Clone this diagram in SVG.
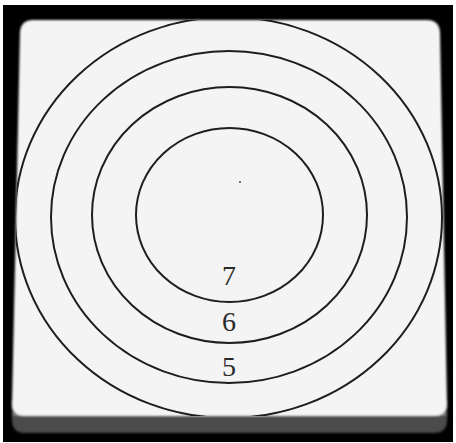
<svg xmlns="http://www.w3.org/2000/svg" width="456" height="443" viewBox="0 0 456 443">
  <defs>
    <filter id="soft" x="-5%" y="-5%" width="110%" height="110%">
      <feGaussianBlur stdDeviation="1.2"/>
    </filter>
    <clipPath id="boardClip">
      <path d="M33,20 H427 Q439,20 440,32 L447,404 Q447,416 435,416 H24 Q12,416 12,404 L20,32 Q21,20 33,20 Z"/>
    </clipPath>
  </defs>
  <style>
    .ring { fill: none; stroke: #1e1e1e; stroke-width: 2; }
    .num { font-family: "Liberation Serif", "Times New Roman", serif; font-size: 28px; fill: #2a2a2a; text-anchor: middle; }
  </style>
  <rect x="0" y="0" width="456" height="443" fill="#ffffff"/>
  <rect x="3" y="5" width="450" height="437" fill="#000000"/>
  <g id="base" filter="url(#soft)">
    <path d="M12,400 L12,420 Q12,433 25,433 H434 Q447,433 447,420 L447,400 Z" fill="#4b4b4b"/>
    <path d="M12,414 H447" stroke="#7a7a7a" stroke-width="3"/>
  </g>
  <g id="board">
    <path d="M33,20 H427 Q439,20 440,32 L447,404 Q447,416 435,416 H24 Q12,416 12,404 L20,32 Q21,20 33,20 Z" fill="#f4f4f4" filter="url(#soft)"/>
  </g>
  <g id="rings" clip-path="url(#boardClip)">
    <ellipse id="ring-outer" class="ring" cx="228.5" cy="217.5" rx="213.5" ry="200.5"/>
    <ellipse id="ring-5" class="ring" cx="229" cy="217" rx="178" ry="166"/>
    <ellipse id="ring-6" class="ring" cx="229.5" cy="215" rx="137.5" ry="128"/>
    <ellipse id="ring-7" class="ring" cx="229.5" cy="215" rx="93.5" ry="87"/>
    <circle cx="240" cy="182" r="1" fill="#444"/>
  </g>
  <g id="labels">
    <text class="num" x="229" y="285">7</text>
    <text class="num" x="229" y="331">6</text>
    <text class="num" x="229" y="376">5</text>
  </g>
</svg>
